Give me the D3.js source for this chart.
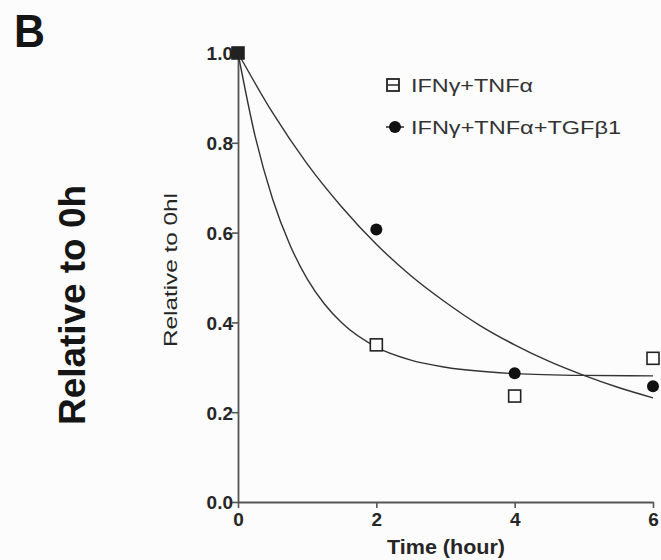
<!DOCTYPE html>
<html>
<head>
<meta charset="utf-8">
<script src="https://cdn.jsdelivr.net/npm/d3@7"></script>
<style>
  html, body { margin: 0; padding: 0; background: #fcfcfc; }
  svg { display: block; }
</style>
</head>
<body>
<svg id="chart" width="661" height="560"></svg>
<script>
// Measured time points (hours)
const timePoints = [0, 2, 4, 6];
// Relative expression, IFNγ+TNFα (open squares)
const valuesTNF = [1.0, 0.35, 0.236, 0.32];
// Relative expression, IFNγ+TNFα+TGFβ1 (filled circles)
const valuesTGF = [1.0, 0.607, 0.287, 0.258];

// Fitted decay curves, sampled along the time axis
const fitTimesTNF = [0, 0.25, 0.5, 0.75, 1, 1.25, 1.5, 2, 2.5, 3, 4, 5, 6];
const fitValuesTNF = [1.0, 0.813, 0.675, 0.573, 0.497, 0.441, 0.399, 0.345, 0.316, 0.300, 0.286, 0.282, 0.281];
const fitTimesTGF = [0, 0.5, 1, 1.5, 2, 2.5, 3, 3.5, 4, 4.5, 5, 5.5, 6];
const fitValuesTGF = [1.0, 0.867, 0.753, 0.657, 0.574, 0.504, 0.445, 0.393, 0.350, 0.313, 0.282, 0.255, 0.232];

const xTicks = [0, 2, 4, 6];
const yTicks = [0.0, 0.2, 0.4, 0.6, 0.8, 1.0];
const legendLabels = ["IFNγ+TNFα", "IFNγ+TNFα+TGFβ1"];

const svg = d3.select("#chart");
const x = d3.scaleLinear().domain([0, 6]).range([238, 653]);
const y = d3.scaleLinear().domain([0, 1]).range([502, 53]);

const axisColor = "#555";
const textColor = "#262626";
const font = "'Liberation Sans', Arial, sans-serif";

// Panel letter
svg.append("text").attr("x", 14).attr("y", 47)
  .attr("font-family", font).attr("font-weight", "bold").attr("font-size", 46)
  .attr("textLength", 31).attr("lengthAdjust", "spacingAndGlyphs")
  .attr("fill", "#151515").text("B");

// Large outer y label
svg.append("text")
  .attr("transform", "translate(85,305) rotate(-90)")
  .attr("text-anchor", "middle")
  .attr("font-family", font).attr("font-weight", "bold").attr("font-size", 37)
  .attr("textLength", 240).attr("lengthAdjust", "spacingAndGlyphs")
  .attr("fill", "#151515").text("Relative to 0h");

// Axes
const yAxis = d3.axisLeft(y).tickValues(yTicks).tickFormat(d3.format(".1f")).tickSize(6).tickSizeOuter(0);
const xAxis = d3.axisBottom(x).tickValues(xTicks).tickFormat(d3.format("d")).tickSize(6).tickSizeOuter(0);

const gy = svg.append("g").attr("transform", `translate(${x(0)},0)`).call(yAxis);
const gx = svg.append("g").attr("transform", `translate(0,${y(0)})`).call(xAxis);

[gx, gy].forEach(g => {
  g.select(".domain").attr("stroke", axisColor).attr("stroke-width", 1.8);
  g.selectAll(".tick line").attr("stroke", axisColor).attr("stroke-width", 1.6);
  g.selectAll(".tick text")
    .attr("font-family", font).attr("font-weight", "bold").attr("font-size", 19)
    .attr("fill", textColor);
});
gy.selectAll(".tick text").attr("x", -5).attr("dy", "0.36em");
gx.selectAll(".tick text").attr("y", 11);

// Inner axis titles
svg.append("text")
  .attr("transform", "translate(177,270) rotate(-90)")
  .attr("text-anchor", "middle")
  .attr("font-family", font).attr("font-size", 18)
  .attr("textLength", 154).attr("lengthAdjust", "spacingAndGlyphs")
  .attr("fill", textColor).text("Relative to 0hl");

svg.append("text").attr("x", 446).attr("y", 554)
  .attr("text-anchor", "middle")
  .attr("font-family", font).attr("font-weight", "bold").attr("font-size", 20)
  .attr("textLength", 118).attr("lengthAdjust", "spacingAndGlyphs")
  .attr("fill", textColor).text("Time (hour)");

// Fit curves
const line = d3.line().x(d => x(d[0])).y(d => y(d[1])).curve(d3.curveMonotoneX);
svg.append("path")
  .datum(d3.zip(fitTimesTNF, fitValuesTNF))
  .attr("d", line).attr("fill", "none").attr("stroke", "#333").attr("stroke-width", 1.4);
svg.append("path")
  .datum(d3.zip(fitTimesTGF, fitValuesTGF))
  .attr("d", line).attr("fill", "none").attr("stroke", "#333").attr("stroke-width", 1.4);

// Data markers
const sq = 12;
svg.append("g").selectAll("circle")
  .data(d3.zip(timePoints, valuesTGF)).join("circle")
  .attr("cx", d => x(d[0])).attr("cy", d => y(d[1])).attr("r", 6)
  .attr("fill", "#111");
svg.append("g").selectAll("rect")
  .data(d3.zip(timePoints, valuesTNF)).join("rect")
  .attr("x", d => x(d[0]) - sq / 2).attr("y", d => y(d[1]) - sq / 2)
  .attr("width", sq).attr("height", sq)
  .attr("fill", (d, i) => i === 0 ? "#222" : "#fff")
  .attr("stroke", "#222").attr("stroke-width", 1.6);

// Legend
const legend = svg.append("g");
const legendY = [85, 127];
const legendLengths = [122, 210];
legendY.forEach((ly, i) => {
  if (i === 0) {
    legend.append("line").attr("x1", 388).attr("x2", 399).attr("y1", ly).attr("y2", ly)
      .attr("stroke", "#333").attr("stroke-width", 1.6);
    legend.append("rect").attr("x", 387).attr("y", ly - 6).attr("width", 12).attr("height", 12)
      .attr("fill", "none").attr("stroke", "#222").attr("stroke-width", 1.8);
  } else {
    legend.append("line").attr("x1", 386).attr("x2", 404).attr("y1", ly).attr("y2", ly)
      .attr("stroke", "#333").attr("stroke-width", 1.6);
    legend.append("circle").attr("cx", 395).attr("cy", ly).attr("r", 6).attr("fill", "#111");
  }
  legend.append("text").attr("x", 411).attr("y", ly + 7)
    .attr("font-family", font).attr("font-size", 18)
    .attr("textLength", legendLengths[i]).attr("lengthAdjust", "spacingAndGlyphs")
    .attr("fill", "#333").text(legendLabels[i]);
});
</script>
</body>
</html>
